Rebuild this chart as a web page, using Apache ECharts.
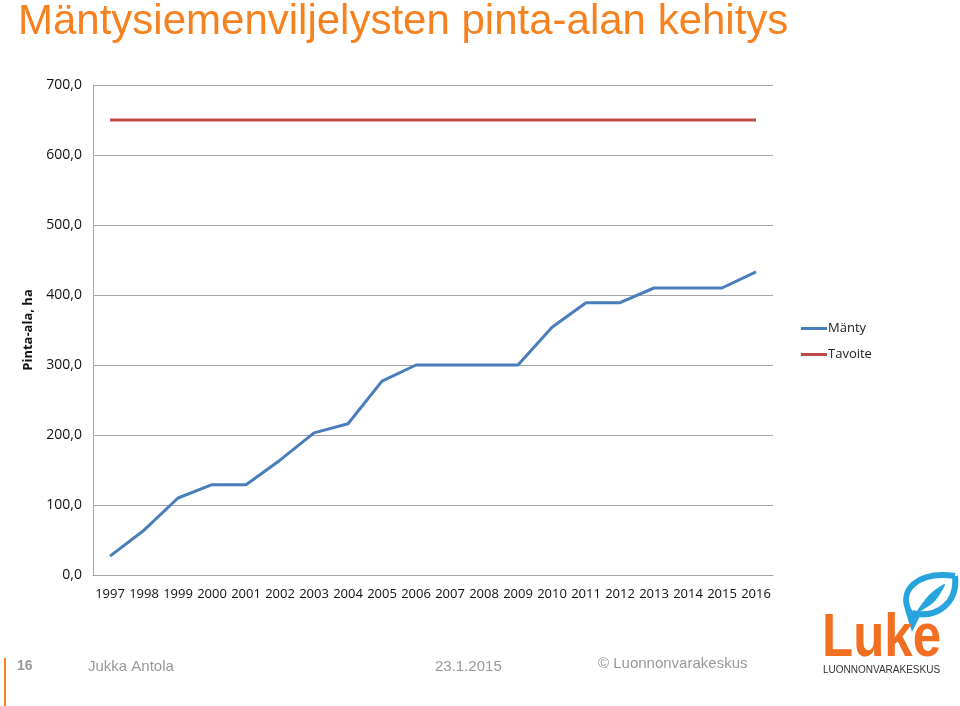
<!DOCTYPE html>
<html><head><meta charset="utf-8">
<script src="https://cdn.jsdelivr.net/npm/echarts@6/dist/echarts.min.js"></script>
<style>html,body{margin:0;padding:0;background:#fff}#c{width:960px;height:706px}</style>
</head><body><div id="c"></div>
<script>
var years = ['1997','1998','1999','2000','2001','2002','2003','2004','2005','2006','2007','2008','2009','2010','2011','2012','2013','2014','2015','2016'];
var manty = [27, 64, 110, 129, 129, 164, 203, 216, 277, 300, 300, 300, 300, 354, 389, 389, 410, 410, 410, 433];
var tavoite = [650, 650, 650, 650, 650, 650, 650, 650, 650, 650, 650, 650, 650, 650, 650, 650, 650, 650, 650, 650];
var yTicks = [0, 100, 200, 300, 400, 500, 600, 700];

var chart = echarts.init(document.getElementById('c'), null, {renderer: 'canvas'});
var sansC = 'Open Sans';
chart.setOption({
  animation: false,
  backgroundColor: '#fff',
  title: {
    text: 'Mäntysiemenviljelysten pinta-alan kehitys',
    left: 13, top: -4,
    textStyle: {fontFamily: 'Liberation Sans', fontSize: 42, fontWeight: 'normal', color: '#F5821F'}
  },
  legend: {
    orient: 'vertical', left: 796, top: 317, itemWidth: 26, itemHeight: 3, itemGap: 13,
    icon: 'rect',
    textStyle: {fontFamily: sansC, fontSize: 13, color: '#222', padding: [0,0,0,-4]},
    data: ['Mänty', 'Tavoite']
  },
  grid: {left: 93, right: 187, top: 85, bottom: 131, containLabel: false},
  xAxis: {
    type: 'category', data: years, boundaryGap: true,
    axisLine: {lineStyle: {color: '#a6a6a6', width: 1}},
    axisTick: {show: false},
    axisLabel: {fontFamily: sansC, fontSize: 13, color: '#111', margin: 13, interval: 0}
  },
  yAxis: {
    type: 'value', min: 0, max: 700, interval: 100,
    name: 'Pinta-ala, ha', nameLocation: 'middle', nameGap: 58, nameRotate: 90, nameMoveOverlap: false,
    nameTextStyle: {fontFamily: sansC, fontSize: 13, fontWeight: 'bold', color: '#111'},
    axisLine: {show: true, lineStyle: {color: '#a6a6a6', width: 1}},
    axisTick: {show: false},
    splitLine: {lineStyle: {color: '#a6a6a6', width: 1}},
    axisLabel: {fontFamily: sansC, fontSize: 14, color: '#111', margin: 11,
      formatter: function (v) { return yTicks.indexOf(v) >= 0 ? v.toFixed(1).replace('.', ',') : ''; }}
  },
  series: [
    {name: 'Mänty', type: 'line', data: manty, symbol: 'none', lineStyle: {color: '#4A7EBB', width: 3}, itemStyle: {color: '#4A7EBB'}},
    {name: 'Tavoite', type: 'line', data: tavoite, symbol: 'none', lineStyle: {color: '#BE4B48', width: 3}, itemStyle: {color: '#BE4B48'}}
  ],
  graphic: [
    {type: 'rect', shape: {x: 4, y: 658, width: 2, height: 48}, style: {fill: '#F5821F'}},
    {type: 'text', left: 17, top: 659, style: {text: '16', font: 'bold 14px "Liberation Sans"', fill: '#999'}},
    {type: 'text', left: 88, top: 659, style: {text: 'Jukka Antola', font: '15px "Liberation Sans"', fill: '#999'}},
    {type: 'text', left: 435, top: 659, style: {text: '23.1.2015', font: '15px "Liberation Sans"', fill: '#999'}},
    {type: 'text', left: 598, top: 656, style: {text: '© Luonnonvarakeskus', font: '15px "Liberation Sans"', fill: '#999'}},
    // Luke logo
    {type: 'bezierCurve', shape: {x1: 910, y1: 613, x2: 955, y2: 576, cpx1: 897, cpy1: 590, cpx2: 918, cpy2: 571}, style: {fill: 'none', stroke: '#27A4DD', lineWidth: 6}},
    {type: 'bezierCurve', shape: {x1: 955, y1: 576, x2: 912, y2: 613, cpx1: 958, cpy1: 603, cpx2: 937, cpy2: 619}, style: {fill: 'none', stroke: '#27A4DD', lineWidth: 6}},
    {type: 'polygon', shape: {points: [[905, 610], [912, 632], [921, 614]]}, style: {fill: '#27A4DD'}},
    {type: 'polygon', shape: {points: [[917, 612], [930, 594], [945, 584], [934, 602]], smooth: 0.3}, style: {fill: '#27A4DD'}},
    {type: 'text', x: 822, y: 609, scaleY: 1.2, style: {text: 'Luke', font: 'bold 51px "Liberation Sans"', fill: '#F26F21', textVerticalAlign: 'top'}},
    {type: 'text', left: 823, top: 665, style: {text: 'LUONNONVARAKESKUS', font: '10px "Liberation Sans"', fill: '#333'}}
  ]
});
</script>
</body></html>
